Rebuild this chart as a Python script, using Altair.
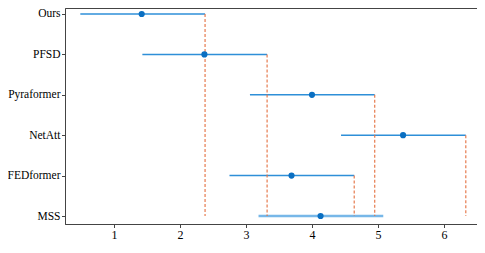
import altair as alt
import pandas as pd
import json

models = ["Ours", "PFSD", "Pyraformer", "NetAtt", "FEDformer", "MSS"]
means = [1.42, 2.37, 4.00, 5.38, 3.69, 4.13]
lows = [0.49, 1.43, 3.06, 4.44, 2.75, 3.19]
highs = [2.38, 3.32, 4.95, 6.33, 4.64, 5.08]
x_ticks = [1, 2, 3, 4, 5, 6]

ref_model = "MSS"
ref_idx = models.index(ref_model)

df = pd.DataFrame({
    "model": models,
    "idx": list(range(len(models))),
    "mean": means,
    "low": lows,
    "high": highs,
})
df["thick"] = df["model"] == ref_model
df["yend"] = ref_idx
dash_df = df[df["model"] != ref_model]

xs = alt.Scale(domain=[0.258, 6.50], nice=False, zero=False)
ys = alt.Scale(domain=[-0.1485, 5.198], nice=False, zero=False, reverse=True)

label_expr = json.dumps(models) + "[datum.value]"

x_enc = alt.X("low:Q", scale=xs, axis=alt.Axis(values=x_ticks, format="d", title=None, grid=False,
                                               labelFontSize=12, labelPadding=2))
y_enc = alt.Y("idx:Q", scale=ys, axis=alt.Axis(values=list(range(len(models))), labelExpr=label_expr,
                                                title=None, grid=False, labelFontSize=11.5,
                                                labelPadding=1.5))

lines = alt.Chart(df[~df["thick"]]).mark_rule(color="#2e8fd8", strokeWidth=1.5).encode(
    x=x_enc, x2="high:Q", y=y_enc
)
thick_line = alt.Chart(df[df["thick"]]).mark_rule(color="#4a9fe0", strokeWidth=2.6, opacity=0.75).encode(
    x=alt.X("low:Q", scale=xs), x2="high:Q", y=alt.Y("idx:Q", scale=ys)
)
dashes = alt.Chart(dash_df).mark_rule(color="#e4703f", strokeWidth=1.3, strokeDash=[3, 2], opacity=0.85).encode(
    x=alt.X("high:Q", scale=xs), y=alt.Y("idx:Q", scale=ys), y2="yend:Q"
)
points = alt.Chart(df).mark_circle(color="#0a6fc2", size=38, opacity=1).encode(
    x=alt.X("mean:Q", scale=xs), y=alt.Y("idx:Q", scale=ys)
)

chart = alt.layer(lines, thick_line, dashes, points).properties(
    width=412, height=216,
    autosize=alt.AutoSizeParams(type="none"),
    padding={"left": 57, "top": 0, "right": 0, "bottom": 17},
).configure_view(
    stroke="#444444", strokeWidth=1
).configure_axis(
    labelFont="Liberation Serif", labelColor="#000000",
    domainColor="#444444", domainWidth=1, tickColor="#444444", tickSize=3.5
)

chart.save("out.html", embed_options={"renderer": "svg", "actions": False})
